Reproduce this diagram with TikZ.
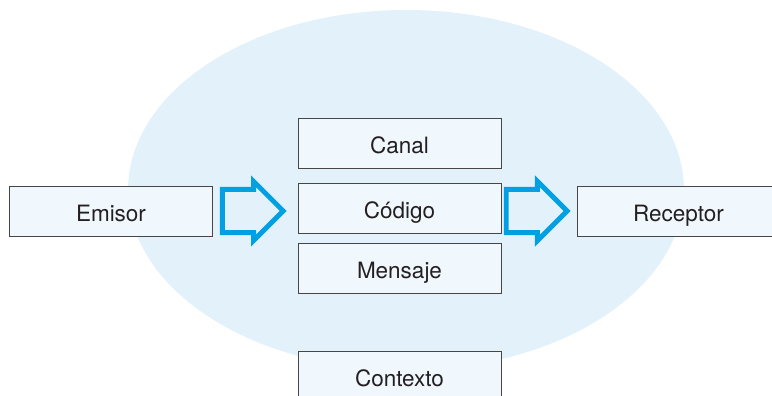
\documentclass[tikz,border=0pt]{standalone}
\usepackage{fontspec}
\setmainfont{TeX Gyre Heros}
\usetikzlibrary{calc,shapes.arrows}

\definecolor{fondo}{RGB}{227,242,250}
\definecolor{caja}{RGB}{241,248,253}
\definecolor{borde}{RGB}{70,70,72}
\definecolor{flecha}{RGB}{0,160,226}
\definecolor{texto}{RGB}{35,31,32}

\begin{document}
\begin{tikzpicture}[
    box/.style={draw=borde, line width=0.7pt, fill=caja, minimum width=5.075cm,
                minimum height=1.25cm, inner sep=0pt, text=texto,
                text height=14.5pt, text depth=0pt,
                font=\fontsize{16}{19}\selectfont},
    barrow/.style={single arrow, draw=flecha, line width=3.5pt, minimum height=1.52cm,
                   single arrow head extend=0.2cm, inner xsep=0pt, inner ysep=0.48cm,
                   anchor=tip}
]
\useasboundingbox (0,0) rectangle (19.3,9.9);
\begin{scope}
\clip (0,0) rectangle (19.3,9.9);
\fill[fondo] (10.15,5.15) ellipse [x radius=6.95cm, y radius=4.5cm];
\node[box] (emisor) at (2.775,4.625) {Emisor};
\node[box] (canal) at (9.9875,6.3125) {Canal};
\node[box] (codigo) at (9.9875,4.7) {Código};
\node[box] (mensaje) at (9.9875,3.2) {Mensaje};
\node[box] (receptor) at (16.9625,4.625) {Receptor};
\node[box] (contexto) at (9.9875,0.5) {Contexto};
\node[barrow] (flecha1) at ([xshift=-0.27cm]codigo.west |- emisor.east) {};
\node[barrow] (flecha2) at ([xshift=-0.15cm]receptor.west) {};
\end{scope}
\end{tikzpicture}
\end{document}
